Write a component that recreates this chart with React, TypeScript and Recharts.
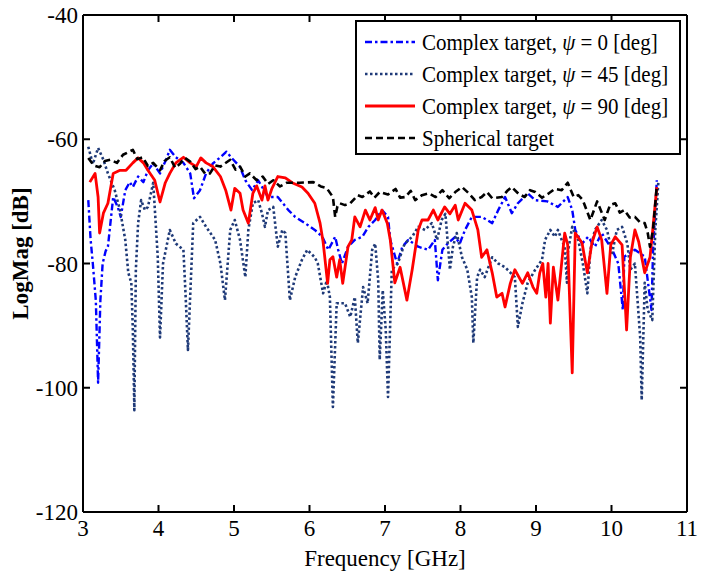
import React from 'react';
import { LineChart, Line, XAxis, YAxis, Legend, ReferenceLine, Label } from 'recharts';

const FONT = '"Liberation Serif", "Times New Roman", serif';

const xTicks = [3, 4, 5, 6, 7, 8, 9, 10, 11];
const yTicks = [-120, -100, -80, -60, -40];
const xInnerTicks = [4, 5, 6, 7, 8, 9, 10];
const yInnerTicks = [-100, -80, -60];

// [frequency GHz, LogMag dB]
const psi0: [number, number][] = [
  [3.07, -69.8], [3.1, -76], [3.13, -80], [3.17, -86], [3.2, -99.2], [3.23, -86], [3.26, -80],
  [3.3, -78], [3.33, -77.3], [3.4, -69.3], [3.46, -70.9], [3.5, -72.5], [3.56, -68.2],
  [3.62, -66.9], [3.66, -67.7], [3.73, -66], [3.8, -66.9], [3.86, -65], [3.93, -63.9],
  [4.02, -65.5], [4.1, -63.3], [4.15, -61.7], [4.23, -62.9], [4.33, -63.8], [4.42, -65.5],
  [4.47, -69.5], [4.55, -68.2], [4.63, -65.5], [4.72, -63.9], [4.82, -62.9], [4.9, -62],
  [4.96, -62.9], [5.03, -63.8], [5.08, -64.5], [5.15, -66.6], [5.24, -68.2], [5.32, -66.6],
  [5.45, -69.3], [5.58, -69.3], [5.72, -71.4], [5.81, -72.5], [5.94, -73.5], [6.07, -74.6],
  [6.17, -75.7], [6.25, -77.8], [6.34, -75.7], [6.38, -77.8], [6.43, -80], [6.51, -77.3],
  [6.6, -76.2], [6.7, -75.7], [6.78, -74.1], [6.87, -73], [6.96, -71.4], [7.04, -72.5],
  [7.07, -76.2], [7.16, -80], [7.23, -77.3], [7.31, -76.2], [7.44, -77.3], [7.57, -77.8],
  [7.66, -76.2], [7.7, -82.7], [7.76, -77.8], [7.83, -76.8], [7.93, -75.7], [7.99, -76.8],
  [8.06, -74.6], [8.15, -72.5], [8.28, -72.5], [8.42, -73.5], [8.5, -71.4], [8.59, -69.3],
  [8.68, -71.9], [8.76, -70.3], [8.89, -68.7], [8.99, -69.8], [9.15, -70], [9.29, -70.9],
  [9.42, -69.3], [9.48, -71.4], [9.52, -74.6], [9.61, -76.8], [9.69, -75.7], [9.78, -77.3],
  [9.87, -75.1], [10.01, -77.8], [10.09, -80], [10.15, -87.5], [10.17, -78.9], [10.31, -77.8],
  [10.44, -78.9], [10.53, -87.5], [10.55, -78], [10.6, -66.6],
];

const psi45: [number, number][] = [
  [3.07, -61.2], [3.13, -64], [3.2, -61.4], [3.27, -63.3], [3.33, -65.5], [3.42, -68.2],
  [3.49, -71.4], [3.56, -76.2], [3.6, -81.5], [3.64, -83.1], [3.66, -90.7], [3.68, -103.6],
  [3.7, -81], [3.73, -73.5], [3.77, -69.8], [3.82, -71.4], [3.86, -70.9], [3.93, -67],
  [3.99, -78.9], [4.02, -91.9], [4.06, -80], [4.15, -74.6], [4.23, -76.8], [4.33, -77.8],
  [4.36, -85.4], [4.39, -93.9], [4.46, -73.5], [4.55, -72.5], [4.63, -74.1], [4.75, -76.2],
  [4.82, -80], [4.88, -85.9], [4.95, -74.6], [5.01, -73], [5.08, -76.2], [5.15, -82.2],
  [5.19, -74.6], [5.25, -70.3], [5.32, -69.8], [5.37, -71.9], [5.41, -74.1], [5.45, -71.4],
  [5.52, -70.9], [5.58, -77.3], [5.64, -74.6], [5.68, -75.1], [5.74, -85.9], [5.81, -82.2],
  [5.9, -79.4], [5.97, -77.8], [6.07, -79], [6.11, -80], [6.18, -84.8], [6.23, -82.7],
  [6.27, -85.4], [6.31, -103.1], [6.36, -86.4], [6.47, -86.4], [6.54, -88.6], [6.6, -85.4],
  [6.64, -92.8], [6.71, -83.8], [6.77, -86.4], [6.83, -77.8], [6.87, -76.8], [6.91, -82.7],
  [6.93, -95.5], [6.97, -84.3], [7.01, -90.7], [7.04, -101.5], [7.09, -81], [7.17, -80],
  [7.26, -76.8], [7.36, -75.7], [7.44, -74.1], [7.53, -74.6], [7.62, -73.5], [7.69, -76.2],
  [7.75, -73], [7.8, -72], [7.86, -81], [7.9, -77.3], [7.95, -75.1], [8.02, -79],
  [8.09, -81], [8.15, -85.4], [8.17, -92.8], [8.22, -82.2], [8.26, -81], [8.32, -82.2],
  [8.42, -79], [8.5, -80], [8.59, -80.6], [8.72, -82.2], [8.76, -90.2], [8.82, -86.4],
  [8.89, -83.1], [8.99, -81], [9.08, -79.4], [9.12, -76.2], [9.19, -74.6], [9.25, -75.7],
  [9.29, -74.6], [9.34, -76.2], [9.38, -77.3], [9.41, -83.1], [9.42, -78.3], [9.48, -74.1],
  [9.56, -76.2], [9.62, -80], [9.68, -84.8], [9.72, -77.8], [9.78, -74.6], [9.87, -73],
  [9.94, -74.6], [10.01, -78.3], [10.07, -74.6], [10.14, -74.1], [10.21, -76.8], [10.25, -81],
  [10.31, -80], [10.38, -91.9], [10.4, -102], [10.44, -83.1], [10.48, -87.5], [10.54, -89.1],
  [10.58, -74.6], [10.62, -67],
];

const psi90: [number, number][] = [
  [3.09, -66.9], [3.16, -65.5], [3.2, -69.3], [3.22, -75.1], [3.27, -71.9], [3.33, -70.3],
  [3.4, -65.5], [3.49, -65], [3.57, -65], [3.66, -63.8], [3.73, -63], [3.8, -63.8],
  [3.86, -65], [3.95, -66.6], [4.02, -70.1], [4.09, -67], [4.15, -65.5], [4.23, -63.8],
  [4.33, -62.9], [4.42, -63.8], [4.5, -64.4], [4.56, -63], [4.63, -63.8], [4.72, -64.4],
  [4.82, -66], [4.89, -68.2], [4.96, -71.4], [5.01, -67.9], [5.08, -68.7], [5.12, -71.4],
  [5.19, -73.5], [5.25, -68.7], [5.3, -67.5], [5.37, -69.8], [5.41, -67.5], [5.45, -69.8],
  [5.5, -68], [5.58, -66], [5.68, -66.2], [5.77, -67], [5.9, -67.7], [5.98, -68.7],
  [6.07, -70.3], [6.14, -73.5], [6.18, -76.5], [6.24, -83.2], [6.27, -79.4], [6.31, -78.9],
  [6.36, -82.2], [6.4, -79.4], [6.44, -83.2], [6.51, -77.3], [6.56, -76.2], [6.6, -72.5],
  [6.67, -74.1], [6.74, -71.4], [6.8, -73], [6.87, -71], [6.91, -73], [6.96, -71.4],
  [7.03, -73.5], [7.07, -76.2], [7.13, -83.1], [7.2, -80.6], [7.29, -85.9], [7.36, -81],
  [7.44, -74.6], [7.49, -73], [7.57, -73], [7.64, -71.4], [7.7, -73], [7.79, -70.9],
  [7.86, -72], [7.93, -70.6], [7.97, -73], [8.06, -70.3], [8.15, -71.4], [8.23, -74.6],
  [8.28, -79], [8.35, -77.8], [8.42, -81.5], [8.48, -85.4], [8.55, -84.8], [8.59, -87],
  [8.66, -83.2], [8.72, -81], [8.82, -83.2], [8.89, -81.5], [8.96, -83.8], [9.01, -84.8],
  [9.05, -81.5], [9.09, -80], [9.13, -85.4], [9.16, -80], [9.19, -89.6], [9.23, -80.6],
  [9.29, -85.9], [9.38, -75.1], [9.42, -77], [9.48, -97.6], [9.52, -75.1], [9.61, -76.7],
  [9.68, -81.5], [9.74, -76.7], [9.81, -74.1], [9.87, -76.2], [9.94, -84.8], [9.99, -77],
  [10.05, -75.7], [10.14, -77], [10.2, -90.7], [10.25, -79], [10.31, -74.6], [10.36, -76.5],
  [10.44, -81.5], [10.51, -79], [10.55, -74.1], [10.6, -67.7],
];

const spherical: [number, number][] = [
  [3.07, -63], [3.14, -64.2], [3.22, -64.5], [3.29, -63.5], [3.36, -63.3], [3.45, -63.8],
  [3.53, -62.5], [3.66, -61.7], [3.72, -63.2], [3.79, -62.9], [3.86, -64.3], [3.93, -63.8],
  [4.02, -65], [4.08, -63.5], [4.15, -62.9], [4.22, -64.6], [4.28, -64], [4.35, -63],
  [4.42, -63.6], [4.49, -64.8], [4.55, -64.4], [4.62, -65.6], [4.68, -65.5], [4.75, -64.2],
  [4.82, -64.4], [4.95, -63.3], [5.02, -64.9], [5.08, -64.4], [5.15, -66], [5.21, -65.5],
  [5.3, -66.6], [5.38, -66], [5.45, -67.2], [5.52, -66.6], [5.61, -67.6], [5.7, -67],
  [5.87, -67], [6.05, -66.9], [6.15, -67.6], [6.23, -67.9], [6.31, -69.3], [6.34, -72.5],
  [6.37, -70.8], [6.4, -70.3], [6.47, -70.6], [6.54, -70.3], [6.64, -69], [6.7, -69.3],
  [6.8, -68.4], [6.86, -69.4], [6.93, -68.5], [7.04, -68.9], [7.14, -68], [7.2, -69.4],
  [7.27, -69.3], [7.34, -68.3], [7.4, -69.8], [7.49, -69], [7.58, -68.7], [7.67, -69.3],
  [7.76, -68.2], [7.85, -69.5], [7.94, -68.4], [8.02, -67.7], [8.11, -68.7], [8.19, -69.8],
  [8.28, -69.3], [8.35, -68.5], [8.42, -69.5], [8.55, -69.3], [8.62, -68.3], [8.68, -67.7],
  [8.77, -68.8], [8.85, -69.3], [8.92, -68.2], [8.99, -68.5], [9.08, -69.4], [9.17, -68.7],
  [9.25, -68], [9.34, -68.2], [9.42, -67], [9.5, -69.3], [9.56, -69], [9.62, -69.8],
  [9.72, -73], [9.81, -70], [9.91, -73], [9.98, -70.6], [10.05, -70.3], [10.11, -71.8],
  [10.17, -71.4], [10.24, -72.6], [10.31, -72.5], [10.38, -73.4], [10.44, -73.5],
  [10.48, -75.1], [10.51, -77.3], [10.55, -74.6], [10.6, -67.5],
];

const toPoints = (arr: [number, number][]) => arr.map(([f, v]) => ({ f, v }));

const SERIES = [
  { key: 'psi0', data: psi0, color: '#0000ff', width: 2.4, dash: '7 3 2.5 3', pre: 'Complex target, ', post: ' = 0 [deg]', psi: true },
  { key: 'psi45', data: psi45, color: '#1f3a78', width: 2.6, dash: '2.5 2.5', pre: 'Complex target, ', post: ' = 45 [deg]', psi: true },
  { key: 'psi90', data: psi90, color: '#ff0000', width: 2.8, dash: undefined, pre: 'Complex target, ', post: ' = 90 [deg]', psi: true },
  { key: 'sph', data: spherical, color: '#000000', width: 2.6, dash: '7 4', pre: 'Spherical target', post: '', psi: false },
];

const TICK_LEN = 7;

const InnerTicks = (p: any) => {
  const { x1, y1, x2, y2 } = p;
  if (Math.abs(x1 - x2) < 0.5) {
    const top = Math.min(y1, y2);
    const bot = Math.max(y1, y2);
    return (
      <g>
        <line x1={x1} x2={x1} y1={bot} y2={bot - TICK_LEN} stroke="#000" strokeWidth={2} />
        <line x1={x1} x2={x1} y1={top} y2={top + TICK_LEN} stroke="#000" strokeWidth={2} />
      </g>
    );
  }
  const left = Math.min(x1, x2);
  const right = Math.max(x1, x2);
  return (
    <g>
      <line x1={left} x2={left + TICK_LEN} y1={y1} y2={y1} stroke="#000" strokeWidth={2} />
      <line x1={right} x2={right - TICK_LEN} y1={y1} y2={y1} stroke="#000" strokeWidth={2} />
    </g>
  );
};

const LegendBox = () => (
  <div
    style={{
      width: 326,
      height: 135,
      boxSizing: 'border-box',
      border: '2px solid #000',
      background: '#fff',
      padding: '4px 0 0 8px',
      fontFamily: FONT,
      fontSize: 21,
      color: '#000',
    }}
  >
    {SERIES.map((s) => (
      <div key={s.key} style={{ display: 'flex', alignItems: 'center', height: 32 }}>
        <svg width={52} height={10}>
          <line x1={0} y1={5} x2={50} y2={5} stroke={s.color} strokeWidth={s.width} strokeDasharray={s.dash} />
        </svg>
        <span style={{ marginLeft: 5, whiteSpace: 'nowrap', display: 'inline-block', transform: 'scaleY(1.12)' }}>
          {s.pre}
          {s.psi && <i>ψ</i>}
          {s.post}
        </span>
      </div>
    ))}
  </div>
);

const XTitle = (props: any) => {
  const { x, y, width } = props.viewBox;
  return (
    <text x={x + width / 2} y={y + 54} textAnchor="middle" fontFamily={FONT} fontSize={23} fill="#000">
      Frequency [GHz]
    </text>
  );
};

const YTitle = (props: any) => {
  const { y, height } = props.viewBox;
  const cx = 28;
  const cy = y + height / 2 - 10;
  return (
    <text x={cx} y={cy} transform={`rotate(-90 ${cx} ${cy})`} textAnchor="middle" fontFamily={FONT} fontSize={23} fontWeight="bold" fill="#000">
      LogMag [dB]
    </text>
  );
};

export default function App() {
  const tickStyle = { fill: '#000', fontSize: 23, fontFamily: FONT };
  return (
    <div style={{ position: 'absolute', left: 0, top: 0, background: '#fff' }}>
      <LineChart width={715} height={574} margin={{ top: 15, right: 28, left: 0, bottom: 0 }}>
        <XAxis
          dataKey="f"
          type="number"
          domain={[3, 11]}
          ticks={xTicks}
          allowDataOverflow
          height={62}
          tick={tickStyle}
          tickLine={false}
          tickSize={0}
          tickMargin={8}
          axisLine={{ stroke: '#000', strokeWidth: 2 }}
        >
          <Label content={<XTitle />} />
        </XAxis>
        <YAxis
          type="number"
          domain={[-120, -40]}
          ticks={yTicks}
          allowDataOverflow
          width={83}
          tick={tickStyle}
          tickLine={false}
          tickSize={0}
          tickMargin={5}
          axisLine={{ stroke: '#000', strokeWidth: 2 }}
        >
          <Label content={<YTitle />} />
        </YAxis>
        {xInnerTicks.map((t) => (
          <ReferenceLine key={`xt${t}`} x={t} shape={InnerTicks} />
        ))}
        {yInnerTicks.map((t) => (
          <ReferenceLine key={`yt${t}`} y={t} shape={InnerTicks} />
        ))}
        <ReferenceLine y={-40} stroke="#000" strokeWidth={2} />
        <ReferenceLine x={11} stroke="#000" strokeWidth={2} />
        {SERIES.map((s) => (
          <Line
            key={s.key}
            data={toPoints(s.data)}
            dataKey="v"
            type="linear"
            stroke={s.color}
            strokeWidth={s.width}
            strokeDasharray={s.dash}
            strokeLinejoin="round"
            dot={false}
            activeDot={false}
            isAnimationActive={false}
          />
        ))}
        <Legend
          layout="vertical"
          align="center"
          verticalAlign="middle"
          content={<LegendBox />}
          wrapperStyle={{ position: 'absolute', left: 355, top: 20, width: 326, height: 135 }}
        />
      </LineChart>
    </div>
  );
}
